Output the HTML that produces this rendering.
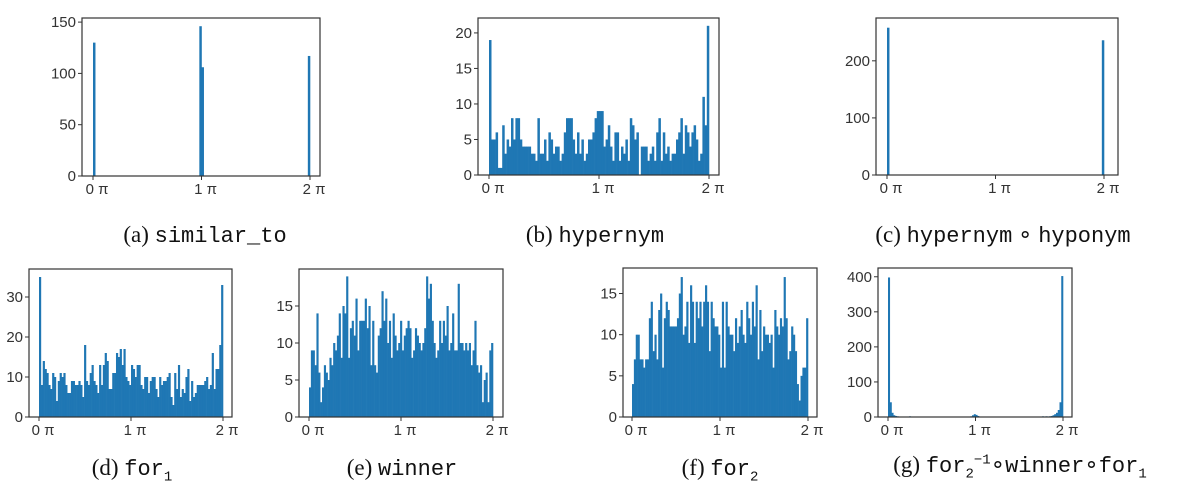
<!DOCTYPE html>
<html><head><meta charset="utf-8">
<style>
body{margin:0;background:#fff;width:1194px;height:496px;overflow:hidden;position:relative;font-family:"Liberation Sans",sans-serif}
svg{position:absolute;left:0;top:0}
.cap{position:absolute;font-family:"Liberation Serif",serif;font-size:23px;color:#111;white-space:nowrap;transform:translateX(-50%)}
.cap code{font-family:"Liberation Mono",monospace;font-size:22px}
</style></head><body>
<svg id="chart" width="1194" height="496"></svg>
<div class="cap" style="left:205px;top:222px">(a) <code>similar_to</code></div>
<div class="cap" style="left:595px;top:222px">(b) <code>hypernym</code></div>
<div class="cap" style="left:1003px;top:222px">(c) <code>hypernym</code> ∘ <code>hyponym</code></div>
<div class="cap" style="left:132px;top:455px">(d) <code>for<sub style="font-size:14px">1</sub></code></div>
<div class="cap" style="left:402px;top:455px">(e) <code>winner</code></div>
<div class="cap" style="left:720px;top:455px">(f) <code>for<sub style="font-size:14px">2</sub></code></div>
<div class="cap" style="left:1020px;top:452px">(g) <code>for<sub style="font-size:14px">2</sub><sup style="font-size:14px">−1</sup></code>∘<code>winner</code>∘<code>for<sub style="font-size:14px">1</sub></code></div>
<script>
const xTickLabels=["0 π","1 π","2 π"];
const countsA=new Array(100).fill(0);
countsA[0]=130;countsA[49]=146;countsA[50]=106;countsA[99]=117;
const countsB=[19,5,5,6,1,1,7,3,5,4,8,5,8,8,5,4,4,4,4,3,3,2,8,3,3,5,2,6,5,3,4,4,2,3,6,8,8,8,5,3,6,3,5,2,3,5,5,6,8,9,9,9,4,5,7,4,2,6,6,2,4,3,5,2,8,7,5,6,0,4,4,4,2,3,4,2,6,8,2,6,3,4,2,3,3,5,6,8,3,7,6,4,6,7,5,2,3,11,7,21];
const countsC=new Array(100).fill(0);
countsC[0]=258;countsC[99]=236;
const countsD=[35,8,14,12,11,8,7,11,10,4,9,11,10,11,8,6,6,9,9,8,8,9,8,5,18,9,8,11,13,9,8,6,13,8,13,16,14,7,7,11,11,16,15,17,13,17,10,9,8,13,12,10,13,13,8,7,10,10,6,9,10,10,7,5,10,8,9,9,10,11,5,3,11,7,13,5,7,6,10,12,4,9,5,6,8,8,8,8,9,10,7,8,16,7,12,12,18,33];
const countsE=[4,9,9,7,14,6,2,4,7,6,5,8,7,10,9,11,14,8,15,14,19,8,12,13,11,16,9,13,13,13,16,12,15,7,13,7,6,11,12,17,13,16,10,13,8,14,11,9,10,13,9,11,12,13,12,8,9,12,11,10,9,10,12,19,16,18,13,10,8,9,13,10,13,11,15,9,10,14,9,9,18,10,10,9,10,9,10,7,9,13,7,6,7,2,5,6,2,9,10];
const countsF=[4,7,10,10,7,7,6,7,7,12,14,8,10,7,13,15,6,12,14,13,11,11,11,11,12,15,17,10,11,14,9,16,14,9,14,12,14,11,14,16,14,8,14,12,11,11,10,6,14,6,14,11,10,10,8,12,9,11,13,10,9,14,12,10,14,11,16,7,13,8,11,10,10,9,10,6,13,11,10,12,11,17,12,7,8,11,10,8,4,2,5,6,6,12];
const countsG=[398,42,12,5,3,2,1,1,0,0,0,0,2,0,0,0,0,0,0,0,0,0,0,0,0,0,0,0,0,0,0,0,0,0,0,0,0,0,0,0,0,0,0,0,0,0,1,2,5,8,6,3,1,0,0,0,0,0,0,0,0,0,0,0,0,0,0,0,0,0,0,0,0,0,0,0,0,0,0,0,0,0,0,0,0,0,0,0,2,1,2,1,2,3,5,8,12,20,42,402];
const yTicksA=[0,50,100,150],yTicksB=[0,5,10,15,20],yTicksC=[0,100,200],yTicksD=[0,10,20,30],yTicksE=[0,5,10,15],yTicksF=[0,5,10,15],yTicksG=[0,100,200,300,400];
const panels=[
 {id:'a',c:countsA,t:yTicksA,L:82,R:320,T:18,B:176,x0:93,x2:310,ymax:154},
 {id:'b',c:countsB,t:yTicksB,L:478,R:719,T:18,B:175,x0:489,x2:709,ymax:22.1},
 {id:'c',c:countsC,t:yTicksC,L:876,R:1118,T:18,B:175,x0:887,x2:1104,ymax:275},
 {id:'d',c:countsD,t:yTicksD,L:29,R:232,T:269,B:417,x0:39,x2:223,ymax:37},
 {id:'e',c:countsE,t:yTicksE,L:299,R:503,T:269,B:417,x0:309,x2:493,ymax:20},
 {id:'f',c:countsF,t:yTicksF,L:623,R:817,T:268,B:417,x0:632,x2:808,ymax:18.1},
 {id:'g',c:countsG,t:yTicksG,L:878,R:1072,T:268,B:417,x0:888,x2:1063,ymax:425}
];
const svg=document.getElementById('chart');const NS='http://www.w3.org/2000/svg';
function mk(tag,at,parent){const e=document.createElementNS(NS,tag);for(const k in at)e.setAttribute(k,at[k]);parent.appendChild(e);return e;}
panels.forEach(p=>{
 const g=mk('g',{},svg);
 
 
 const xs=v=>p.x0+(p.x2-p.x0)*v/2, ys=v=>p.B-(p.B-p.T)*v/p.ymax;
 const n=p.c.length,bw=2/n;
 p.c.forEach((v,i)=>{ if(v<=0)return;
  const r=mk('rect',{x:xs(i*bw),y:ys(v),width:Math.max(xs(bw)-xs(0),0.5)+0.3,height:p.B-ys(v),fill:'#1f77b4'},g);
  
  
 });
 const fr=mk('rect',{x:p.L,y:p.T,width:p.R-p.L,height:p.B-p.T,fill:'none',stroke:'#333','stroke-width':1.2},g);
 
 
 p.t.forEach(v=>{const y=ys(v);
  mk('line',{x1:p.L-4,x2:p.L,y1:y,y2:y,stroke:'#333'},g);
  const t=mk('text',{x:p.L-6,y:y+5,'text-anchor':'end','font-size':15,fill:'#333','font-family':'Liberation Sans, sans-serif'},g);
  t.textContent=v;
  
  
 });
 xTickLabels.forEach((lab,i)=>{const x=xs(i);
  mk('line',{x1:x,x2:x,y1:p.B,y2:p.B+4,stroke:'#333'},g);
  const t=mk('text',{x:x+4,y:p.B+18,'text-anchor':'middle','font-size':15,fill:'#333','font-family':'Liberation Sans, DejaVu Sans, sans-serif'},g);
  t.textContent=lab;
  
  
 });
});
</script>
</body></html>
